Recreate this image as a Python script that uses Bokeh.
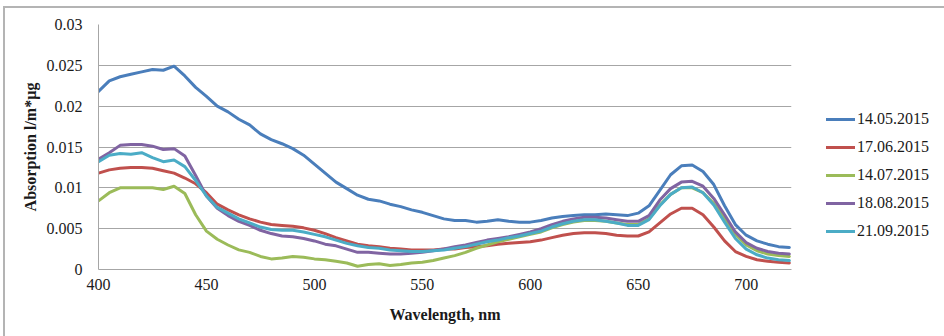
from bokeh.plotting import figure
from bokeh.models import Range1d, FixedTicker, CustomJSTickFormatter, Legend, LegendItem
from bokeh.embed import file_html
from bokeh.resources import INLINE

wavelength = list(range(400, 721, 5))

s_14_05 = [0.0218, 0.0231, 0.0236, 0.0239, 0.0242, 0.0245, 0.0244, 0.0249, 0.0237, 0.0223,
           0.0212, 0.0200, 0.0193, 0.0184, 0.0177, 0.0166, 0.0159, 0.0154, 0.0148, 0.0140,
           0.0129, 0.0118, 0.0107, 0.0099, 0.0091, 0.0086, 0.0084, 0.0080, 0.0077, 0.0073,
           0.0070, 0.0066, 0.0062, 0.0060, 0.0060, 0.0058, 0.0059, 0.0061, 0.0059, 0.0058,
           0.0058, 0.0060, 0.0063, 0.0065, 0.0066, 0.0067, 0.0067, 0.0068, 0.0067, 0.0066,
           0.0069, 0.0078, 0.0097, 0.0116, 0.0127, 0.0128, 0.0120, 0.0104, 0.0078, 0.0055,
           0.0042, 0.0035, 0.0031, 0.0028, 0.0027]

s_17_06 = [0.0118, 0.0122, 0.0124, 0.0125, 0.0125, 0.0124, 0.0121, 0.0118, 0.0112, 0.0105,
           0.0094, 0.0080, 0.0073, 0.0067, 0.0062, 0.0058, 0.0055, 0.0054, 0.0053, 0.0051,
           0.0048, 0.0044, 0.0039, 0.0035, 0.0031, 0.0029, 0.0028, 0.0026, 0.0025, 0.0024,
           0.0024, 0.0024, 0.0025, 0.0025, 0.0027, 0.0028, 0.0029, 0.0031, 0.0032, 0.0033,
           0.0034, 0.0036, 0.0039, 0.0042, 0.0044, 0.0045, 0.0045, 0.0044, 0.0042, 0.0041,
           0.0041, 0.0046, 0.0057, 0.0068, 0.0075, 0.0075, 0.0067, 0.0052, 0.0035, 0.0022,
           0.0016, 0.0012, 0.0010, 0.0009, 0.0008]

s_14_07 = [0.0084, 0.0094, 0.0100, 0.0100, 0.0100, 0.0100, 0.0098, 0.0102, 0.0093, 0.0067,
           0.0047, 0.0037, 0.0030, 0.0024, 0.0021, 0.0016, 0.0013, 0.0014, 0.0016, 0.0015,
           0.0013, 0.0012, 0.0010, 0.0008, 0.0004, 0.0006, 0.0007, 0.0005, 0.0006, 0.0008,
           0.0009, 0.0011, 0.0014, 0.0017, 0.0021, 0.0026, 0.0030, 0.0034, 0.0037, 0.0040,
           0.0043, 0.0046, 0.0051, 0.0055, 0.0058, 0.0060, 0.0060, 0.0059, 0.0057, 0.0055,
           0.0055, 0.0062, 0.0079, 0.0092, 0.0100, 0.0100, 0.0094, 0.0081, 0.0063, 0.0043,
           0.0030, 0.0023, 0.0019, 0.0017, 0.0016]

s_18_08 = [0.0135, 0.0143, 0.0152, 0.0153, 0.0153, 0.0151, 0.0147, 0.0148, 0.0139, 0.0115,
           0.0090, 0.0075, 0.0066, 0.0059, 0.0054, 0.0048, 0.0044, 0.0041, 0.0040, 0.0038,
           0.0035, 0.0031, 0.0029, 0.0025, 0.0021, 0.0021, 0.0020, 0.0019, 0.0019, 0.0020,
           0.0021, 0.0023, 0.0025, 0.0028, 0.0030, 0.0033, 0.0036, 0.0038, 0.0040, 0.0043,
           0.0046, 0.0050, 0.0055, 0.0059, 0.0062, 0.0064, 0.0064, 0.0063, 0.0061, 0.0059,
           0.0059, 0.0066, 0.0085, 0.0099, 0.0107, 0.0108, 0.0102, 0.0087, 0.0067, 0.0046,
           0.0033, 0.0026, 0.0022, 0.0020, 0.0019]

s_21_09 = [0.0132, 0.0140, 0.0142, 0.0141, 0.0143, 0.0137, 0.0132, 0.0134, 0.0126, 0.0109,
           0.0090, 0.0076, 0.0069, 0.0062, 0.0057, 0.0052, 0.0049, 0.0048, 0.0048, 0.0046,
           0.0043, 0.0040, 0.0036, 0.0032, 0.0029, 0.0027, 0.0026, 0.0024, 0.0023, 0.0022,
           0.0022, 0.0023, 0.0024, 0.0026, 0.0028, 0.0031, 0.0034, 0.0036, 0.0039, 0.0041,
           0.0044, 0.0047, 0.0052, 0.0056, 0.0059, 0.0061, 0.0061, 0.0059, 0.0057, 0.0054,
           0.0054, 0.0061, 0.0078, 0.0092, 0.0100, 0.0101, 0.0094, 0.0079, 0.0058, 0.0038,
           0.0025, 0.0018, 0.0014, 0.0012, 0.0011]

series_names = ["14.05.2015", "17.06.2015", "14.07.2015", "18.08.2015", "21.09.2015"]
series_values = [s_14_05, s_17_06, s_14_07, s_18_08, s_21_09]
series_colors = ["#4A7EBB", "#C0504D", "#9BBB59", "#8064A2", "#4BACC6"]

x_ticks = [400, 450, 500, 550, 600, 650, 700]
y_ticks = [0, 0.005, 0.01, 0.015, 0.02, 0.025, 0.03]

FONT = "Liberation Serif"
TEXT = "#1a1a1a"

# canvas placed at (5, 8) in the page by the CSS margin + border below
p = figure(output_backend="svg", toolbar_location=None,
           x_range=Range1d(400, 721), y_range=Range1d(0, 0.03),
           frame_width=693, frame_height=245,
           min_border_left=93, min_border_right=160, min_border_top=16, min_border_bottom=67)
p.styles = {"margin-left": "3px", "margin-top": "6px",
            "border-left": "2px solid #b4b4b4", "border-top": "2px solid #b4b4b4"}
p.outline_line_color = None
p.background_fill_color = "white"
p.border_fill_color = "white"

p.xgrid.grid_line_color = None
p.ygrid.grid_line_color = "#a6a6a6"
p.ygrid.grid_line_width = 1
p.ygrid.ticker = FixedTicker(ticks=y_ticks)

p.xaxis.ticker = FixedTicker(ticks=x_ticks)
p.yaxis.ticker = FixedTicker(ticks=y_ticks)
p.yaxis.formatter = CustomJSTickFormatter(code="return tick.toFixed(3).replace(/\\.?0+$/, '');")

for ax in (p.xaxis[0], p.yaxis[0]):
    ax.axis_line_color = "#a6a6a6"
    ax.axis_line_width = 1
    ax.major_tick_line_color = None
    ax.minor_tick_line_color = None
    ax.major_tick_out = 0
    ax.major_tick_in = 0
    ax.minor_tick_out = 0
    ax.major_label_text_font = FONT
    ax.major_label_text_font_size = "16px"
    ax.major_label_text_color = TEXT
    ax.axis_label_text_font = FONT
    ax.axis_label_text_font_size = "16px"
    ax.axis_label_text_font_style = "bold"
    ax.axis_label_text_color = TEXT

p.xaxis.axis_label = "Wavelength, nm"
p.yaxis.axis_label = "Absorption l/m*µg"
p.xaxis.major_label_standoff = 9
p.xaxis.axis_label_standoff = 13
p.yaxis.major_label_standoff = 16
p.yaxis.axis_label_standoff = 5

items = []
for name, vals, col in zip(series_names, series_values, series_colors):
    r = p.line(wavelength, vals, line_color=col, line_width=3, line_join="round", line_cap="round")
    items.append(LegendItem(label=name, renderers=[r]))

legend = Legend(items=items, location=(35, 28), orientation="vertical",
                label_text_font=FONT, label_text_font_size="16px", label_text_color=TEXT,
                glyph_width=29, glyph_height=20, label_height=20, spacing=8,
                label_standoff=2, padding=0, margin=0,
                border_line_color=None, background_fill_alpha=0)
p.add_layout(legend, "right")

open("out.html", "w").write(file_html(p, INLINE))
